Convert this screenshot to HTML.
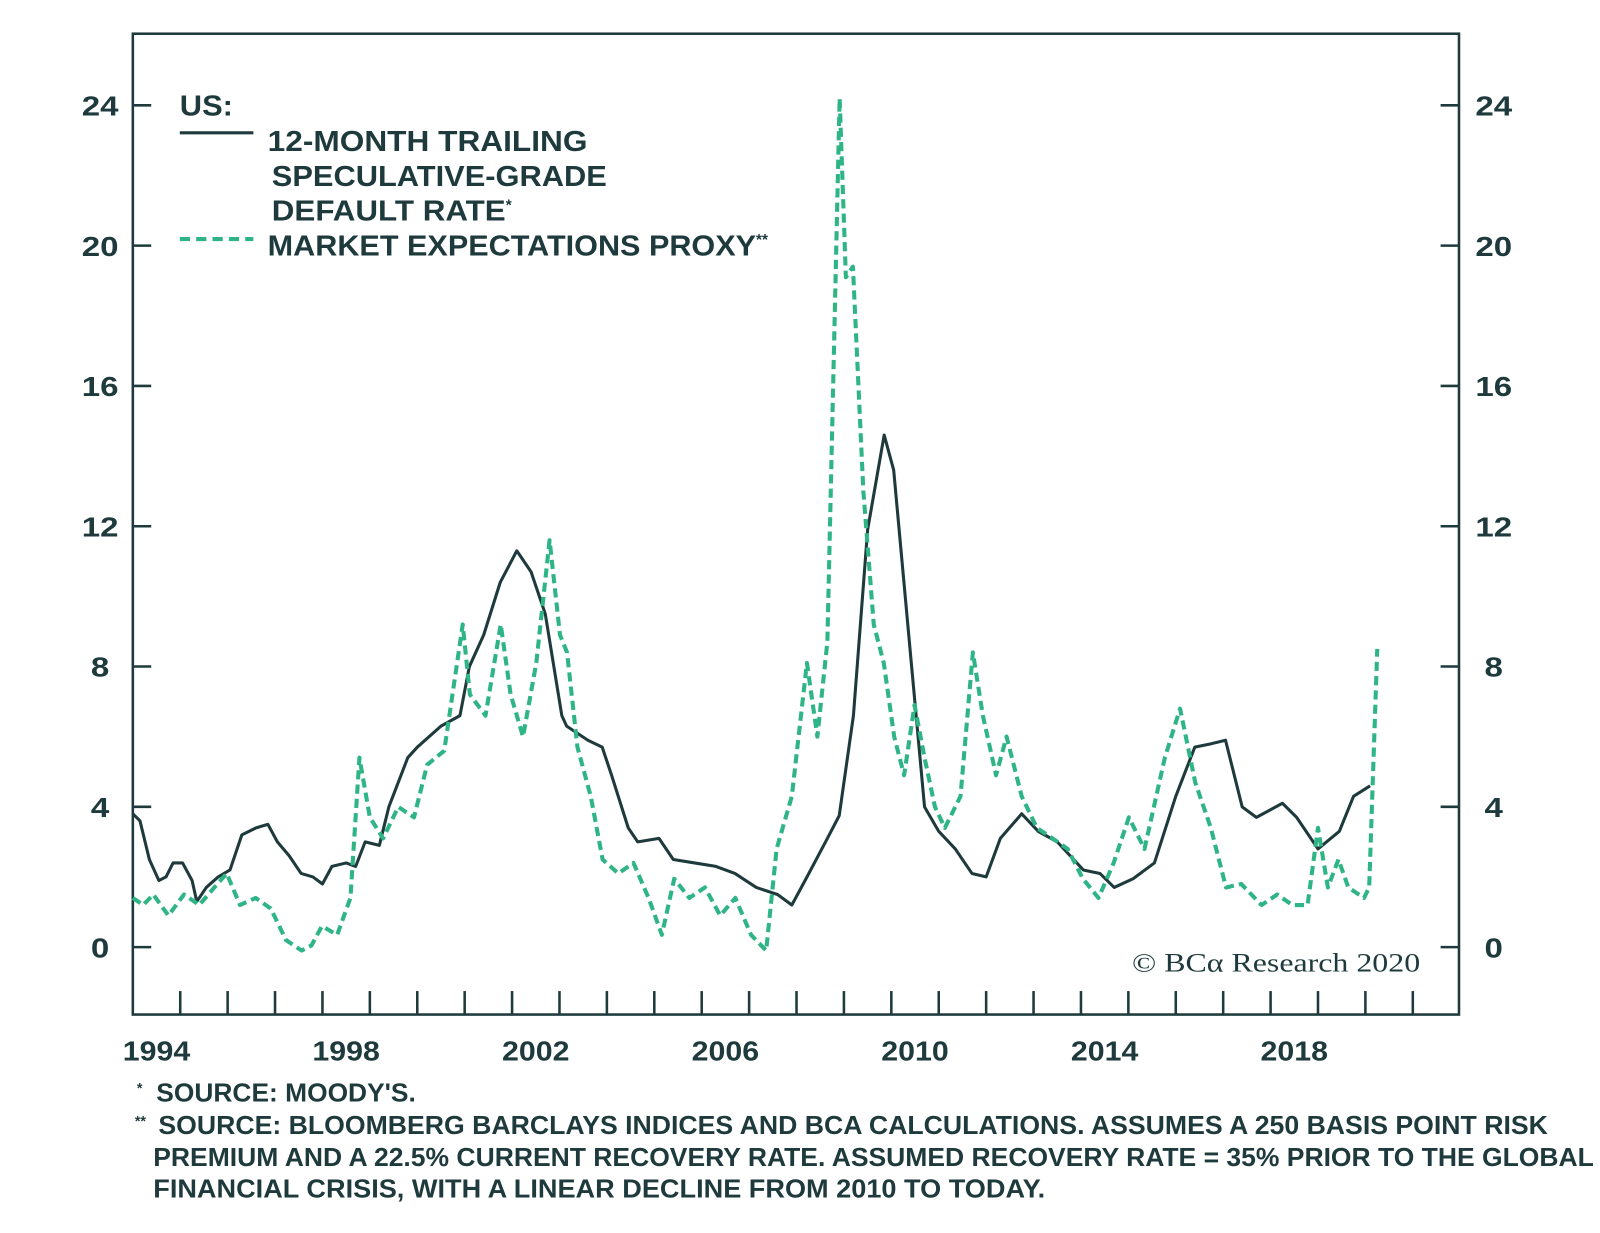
<!DOCTYPE html>
<html><head><meta charset="utf-8">
<style>
body{margin:0;background:#fff;}
svg{display:block;font-family:"Liberation Sans",sans-serif;}
</style></head>
<body>
<svg id="chart" width="1600" height="1233" viewBox="0 0 1600 1233" xmlns="http://www.w3.org/2000/svg">
<g transform="scale(1.0217)">
<rect x="130" y="33" width="1298" height="960" fill="none" stroke="#1e3a3c" stroke-width="2.5"/>
<g id="axes"></g>
<g id="series"></g>
<g font-weight="bold" font-size="28" fill="#1e3a3c">
<text x="176" y="113" textLength="52" lengthAdjust="spacingAndGlyphs">US:</text>
<line x1="176" y1="130" x2="248" y2="130" stroke="#1e3a3c" stroke-width="3"/>
<text x="262" y="148" textLength="313" lengthAdjust="spacingAndGlyphs">12-MONTH TRAILING</text>
<text x="266" y="182" textLength="328" lengthAdjust="spacingAndGlyphs">SPECULATIVE-GRADE</text>
<text x="266" y="216"><tspan textLength="229" lengthAdjust="spacingAndGlyphs">DEFAULT RATE</tspan><tspan font-size="15" dy="-10">*</tspan></text>
<line x1="176" y1="234" x2="248" y2="234" stroke="#2fb585" stroke-width="4" stroke-dasharray="10,6"/>
<text x="262" y="250"><tspan textLength="478" lengthAdjust="spacingAndGlyphs">MARKET EXPECTATIONS PROXY</tspan><tspan font-size="15" dy="-10">**</tspan></text>
</g>
<text x="1108" y="951" font-family="Liberation Serif,serif" font-size="26" fill="#1e3a3c" textLength="282" lengthAdjust="spacingAndGlyphs">© BCα Research 2020</text>
<g font-weight="bold" font-size="25" fill="#1e3a3c">
<text x="134" y="1070" font-size="14">*</text>
<text x="153" y="1078" textLength="254" lengthAdjust="spacingAndGlyphs">SOURCE: MOODY'S.</text>
<text x="132" y="1102" font-size="14">**</text>
<text x="155" y="1110" textLength="1360" lengthAdjust="spacingAndGlyphs">SOURCE: BLOOMBERG BARCLAYS INDICES AND BCA CALCULATIONS. ASSUMES A 250 BASIS POINT RISK</text>
<text x="150" y="1141" textLength="1410" lengthAdjust="spacingAndGlyphs">PREMIUM AND A 22.5% CURRENT RECOVERY RATE. ASSUMED RECOVERY RATE = 35% PRIOR TO THE GLOBAL</text>
<text x="150" y="1172" textLength="873" lengthAdjust="spacingAndGlyphs">FINANCIAL CRISIS, WITH A LINEAR DECLINE FROM 2010 TO TODAY.</text>
</g>
</g>
</svg>
<script>
const yTicks=[0,4,8,12,16,20,24];
const xLabels=[1994,1998,2002,2006,2010,2014,2018];
const defaultYears=[1994.0,1994.15,1994.35,1994.55,1994.7,1994.85,1995.05,1995.25,1995.35,1995.55,1995.8,1996.05,1996.3,1996.6,1996.85,1997.05,1997.3,1997.55,1997.8,1998.0,1998.2,1998.5,1998.7,1998.9,1999.2,1999.4,1999.8,2000.0,2000.5,2000.9,2001.1,2001.4,2001.75,2002.1,2002.4,2002.7,2003.05,2003.15,2003.6,2003.9,2004.1,2004.45,2004.65,2005.1,2005.4,2005.85,2006.3,2006.7,2007.15,2007.6,2007.9,2008.2,2008.65,2008.9,2009.2,2009.5,2009.85,2010.05,2010.4,2010.7,2011.0,2011.35,2011.7,2012.0,2012.3,2012.75,2013.1,2013.5,2014.05,2014.4,2014.7,2015.1,2015.55,2016.0,2016.4,2016.75,2017.05,2017.4,2017.7,2018.25,2018.55,2019.0,2019.45,2019.75,2020.1];
const defaultRate=[3.8,3.6,2.5,1.9,2.0,2.4,2.4,1.9,1.3,1.7,2.0,2.2,3.2,3.4,3.5,3.0,2.6,2.1,2.0,1.8,2.3,2.4,2.3,3.0,2.9,4.0,5.4,5.7,6.3,6.6,8.0,8.9,10.4,11.3,10.7,9.5,6.6,6.3,5.9,5.7,4.9,3.4,3.0,3.1,2.5,2.4,2.3,2.1,1.7,1.5,1.2,1.95,3.1,3.75,6.6,11.9,14.6,13.6,8.4,4.0,3.3,2.8,2.1,2.0,3.1,3.8,3.3,3.0,2.2,2.1,1.7,1.95,2.4,4.3,5.7,5.8,5.9,4.0,3.7,4.1,3.7,2.8,3.3,4.3,4.6];
const proxyYears=[1994.0,1994.22,1994.43,1994.75,1995.08,1995.4,1995.72,1995.98,1996.26,1996.59,1996.91,1997.23,1997.56,1997.77,1997.99,1998.31,1998.59,1998.78,1999.0,1999.28,1999.6,1999.93,2000.21,2000.57,2000.96,2001.11,2001.44,2001.76,2001.97,2002.23,2002.51,2002.79,2003.01,2003.16,2003.38,2003.66,2003.91,2004.24,2004.56,2004.88,2005.16,2005.42,2005.74,2006.07,2006.39,2006.71,2007.04,2007.36,2007.58,2007.9,2008.22,2008.44,2008.65,2008.91,2009.04,2009.19,2009.41,2009.63,2009.84,2010.06,2010.27,2010.49,2010.7,2010.92,2011.13,2011.46,2011.72,2011.93,2012.21,2012.43,2012.75,2013.07,2013.4,2013.72,2014.04,2014.37,2014.69,2015.01,2015.34,2015.77,2016.09,2016.41,2016.74,2017.06,2017.38,2017.81,2018.14,2018.46,2018.78,2019.0,2019.21,2019.43,2019.64,2019.97,2020.08,2020.25];
const proxyRate=[1.4,1.2,1.5,0.9,1.5,1.2,1.7,2.1,1.2,1.4,1.1,0.2,-0.1,0.05,0.6,0.35,1.4,5.4,3.7,3.1,4.0,3.7,5.2,5.6,9.2,7.2,6.6,9.2,7.2,6.0,8.1,11.6,8.9,8.4,5.7,4.3,2.5,2.1,2.4,1.4,0.35,1.95,1.4,1.7,0.9,1.4,0.35,-0.1,2.8,4.3,8.1,6.0,8.7,24.2,19.1,19.4,13.0,9.2,8.1,6.0,4.9,6.9,5.4,4.0,3.4,4.3,8.4,6.6,4.9,6.0,4.3,3.4,3.1,2.8,1.95,1.4,2.4,3.7,2.8,5.4,6.8,4.7,3.4,1.7,1.8,1.2,1.5,1.2,1.2,3.4,1.7,2.5,1.7,1.4,1.7,8.5];

const NS="http://www.w3.org/2000/svg";
const xs=t=>130+(t-1994)*46.4;
const ys=v=>927-v*34.33;
const axes=document.getElementById('axes');
const series=document.getElementById('series');
function mk(tag,attrs,parent){const e=document.createElementNS(NS,tag);for(const k in attrs)e.setAttribute(k,attrs[k]);parent.appendChild(e);return e;}
yTicks.forEach(v=>{
  const y=ys(v);
  const w=String(v).length>1?36:18;
  const l1=mk('line',{x1:130,x2:148,y1:y,y2:y,stroke:'#1e3a3c','stroke-width':2.5},axes);
  
  
  const l2=mk('line',{x1:1410,x2:1428,y1:y,y2:y,stroke:'#1e3a3c','stroke-width':2.5},axes);
  
  
  const t1=mk('text',{x:98-w/2,y:y+10,'font-size':27,'font-weight':'bold',fill:'#1e3a3c',textLength:w,lengthAdjust:'spacingAndGlyphs'},axes);
  t1.textContent=v;
  
  
  const t2=mk('text',{x:1462-w/2,y:y+10,'font-size':27,'font-weight':'bold',fill:'#1e3a3c',textLength:w,lengthAdjust:'spacingAndGlyphs'},axes);
  t2.textContent=v;
  
  
});
for(let yr=1995;yr<=2021;yr++){
  const x=xs(yr);
  const l=mk('line',{x1:x,x2:x,y1:970,y2:993,stroke:'#1e3a3c','stroke-width':2.5},axes);
  
  
}
xLabels.forEach(yr=>{
  const t=mk('text',{x:xs(yr+0.5)-33,y:1038,'font-size':27,'font-weight':'bold',fill:'#1e3a3c',textLength:66,lengthAdjust:'spacingAndGlyphs'},axes);
  t.textContent=yr;
  
  
});
function pathOf(xa,va){return xa.map((t,i)=>(i?'L':'M')+xs(t).toFixed(1)+','+ys(va[i]).toFixed(1)).join('');}
const p1=mk('path',{d:pathOf(defaultYears,defaultRate),fill:'none',stroke:'#1e3a3c','stroke-width':3,'stroke-linejoin':'round'},series);


const p2=mk('path',{d:pathOf(proxyYears,proxyRate),fill:'none',stroke:'#2fb585','stroke-width':4,'stroke-dasharray':'9,5','stroke-linejoin':'round'},series);


</script>
</body></html>
